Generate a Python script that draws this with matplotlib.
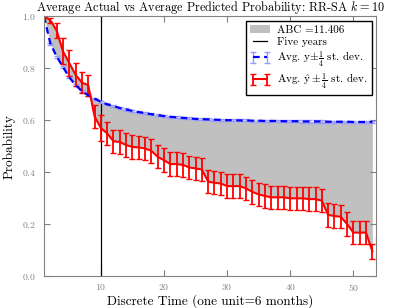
import matplotlib
matplotlib.use("Agg")
import matplotlib.pyplot as plt
import numpy as np

plt.rcParams["font.family"] = ["cmr10", "DejaVu Serif"]
plt.rcParams["mathtext.fontset"] = "cm"
plt.rcParams["axes.formatter.use_mathtext"] = True

time = np.arange(1, 54)

actual = [1.00, 0.895, 0.845, 0.805, 0.765, 0.735, 0.712, 0.696, 0.683, 0.671,
          0.661, 0.654, 0.647, 0.641, 0.636, 0.631, 0.627, 0.623, 0.619, 0.616,
          0.613, 0.611, 0.609, 0.607, 0.605, 0.604, 0.603, 0.602, 0.601, 0.600,
          0.600, 0.599, 0.599, 0.598, 0.598, 0.597, 0.597, 0.597, 0.596, 0.596,
          0.596, 0.595, 0.595, 0.595, 0.595, 0.594, 0.594, 0.594, 0.594, 0.593,
          0.593, 0.593, 0.593]
actual_err = [0.004] * 53

predicted = [1.00, 0.985, 0.945, 0.865, 0.820, 0.775, 0.745, 0.735, 0.615, 0.570,
             0.549, 0.519, 0.516, 0.504, 0.497, 0.495, 0.491, 0.482, 0.459, 0.446,
             0.431, 0.431, 0.428, 0.418, 0.414, 0.410, 0.363, 0.359, 0.356, 0.346,
             0.346, 0.346, 0.337, 0.324, 0.314, 0.308, 0.303, 0.303, 0.303, 0.299,
             0.299, 0.299, 0.296, 0.296, 0.290, 0.235, 0.231, 0.228, 0.200, 0.167,
             0.167, 0.167, 0.095]
predicted_err = [0.0, 0.01, 0.03, 0.05, 0.05, 0.045, 0.04, 0.04, 0.045, 0.05] + [0.045] * 42 + [0.03]

abc_label = "ABC =11.406"
five_years = 10

fig = plt.figure(figsize=(4.04, 3.08), dpi=100)
ax = fig.add_axes([0.109, 0.104, 0.822, 0.843])

ax.fill_between(time, actual, predicted, color="silver", label=abc_label, linewidth=0)
ax.axvline(five_years, color="black", linewidth=0.9, label="Five years")
ax.errorbar(time, actual, yerr=actual_err, color="blue", ecolor=(0.6, 0.6, 1.0),
            linestyle="--", linewidth=1.6, capsize=2, elinewidth=1,
            dashes=(3, 2), label=r"Avg. y$\pm\frac{1}{4}$ st. dev.")
ax.errorbar(time, predicted, yerr=predicted_err, color="red", ecolor="red",
            linestyle="-", linewidth=1.5, capsize=2.5, elinewidth=1.3,
            label=r"Avg. $\hat{\mathrm{y}}\pm\frac{1}{4}$ st. dev.")

ax.set_xlim(1, 53.6)
ax.set_ylim(0, 1)
ax.set_xticks([10, 20, 30, 40, 50])
ax.set_yticks([0.0, 0.2, 0.4, 0.6, 0.8, 1.0])
ax.tick_params(direction="in", top=True, right=True, labelsize=7,
               colors="gray", labelcolor="gray", length=4)
ax.tick_params(axis="x", pad=4)
ax.tick_params(axis="y", pad=6)
for s in ax.spines.values():
    s.set_color("gray")

ax.set_title(r"Average Actual vs Average Predicted Probability: RR-SA $k=10$",
             fontsize=8.8, pad=3.5)
ax.set_xlabel("Discrete Time (one unit=6 months)", fontsize=9.5, labelpad=1)
ax.set_ylabel("Probability", fontsize=9.5, labelpad=4)

leg = ax.legend(loc="upper right", fontsize=8, numpoints=2, fancybox=False,
                framealpha=1, borderaxespad=0.4, handlelength=1.8,
                handletextpad=0.6, labelspacing=0.2, borderpad=0.4)
leg.get_frame().set_edgecolor("black")

fig.savefig("out.png", dpi=100)
